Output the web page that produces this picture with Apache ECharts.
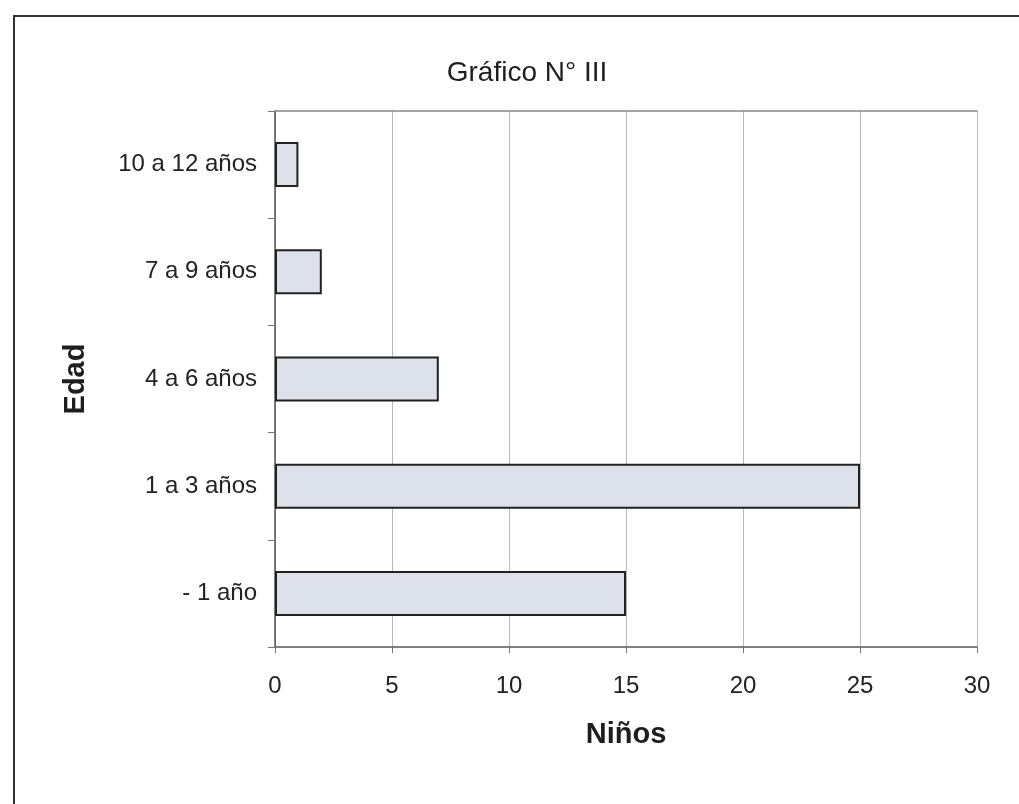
<!DOCTYPE html>
<html>
<head>
<meta charset="utf-8">
<script src="https://cdn.jsdelivr.net/npm/echarts@6/dist/echarts.min.js"></script>
<style>
  html, body { margin: 0; padding: 0; background: #fff; }
  #chart { width: 1019px; height: 804px; }
</style>
</head>
<body>
<div id="chart"></div>
<script>
// categorías de abajo hacia arriba
const edades = ['- 1 año', '1 a 3 años', '4 a 6 años', '7 a 9 años', '10 a 12 años'];
const ninos = [15, 25, 7, 2, 1];

const chart = echarts.init(document.getElementById('chart'));

const option = {
  backgroundColor: '#ffffff',
  textStyle: { fontFamily: 'Liberation Sans, Arial, sans-serif' },
  title: {
    text: 'Gráfico N° III',
    left: 522,
    top: 54,
    textAlign: 'center',
    textStyle: { fontSize: 28, fontWeight: 'normal', color: '#1e1e1e' }
  },
  graphic: [
    {
      type: 'rect',
      shape: { x: 14, y: 16, width: 1100, height: 900 },
      style: { fill: 'none', stroke: '#333', lineWidth: 2 },
      silent: true
    }
  ],
  grid: { left: 275, right: 42, top: 111, bottom: 157 },
  xAxis: [
    {
      type: 'value',
      min: 0,
      max: 30,
      interval: 5,
      name: 'Niños',
      nameLocation: 'middle',
      nameGap: 73,
      nameTextStyle: { fontSize: 29, fontWeight: 'bold', color: '#1e1e1e' },
      axisLine: { show: true, lineStyle: { color: '#555', width: 1.5 } },
      axisTick: { show: true, length: 6, lineStyle: { color: '#777' } },
      axisLabel: { fontSize: 24, color: '#222', margin: 27 },
      splitLine: { show: true, lineStyle: { color: '#b8b8b8', width: 1 } }
    },
    {
      // línea superior del área de trazado
      type: 'value',
      position: 'top',
      min: 0,
      max: 30,
      axisLine: { show: true, onZero: false, lineStyle: { color: '#888', width: 1.5 } },
      axisTick: { show: false },
      axisLabel: { show: false },
      splitLine: { show: false }
    }
  ],
  yAxis: {
    type: 'category',
    data: edades,
    name: 'Edad',
    nameLocation: 'middle',
    nameGap: 185,
    nameTextStyle: { fontSize: 29, fontWeight: 'bold', color: '#1e1e1e' },
    axisLine: { show: true, lineStyle: { color: '#555', width: 1.5 } },
    axisTick: { show: true, length: 7, lineStyle: { color: '#777' } },
    axisLabel: { fontSize: 24, color: '#222', margin: 18 },
    splitLine: { show: false }
  },
  series: [
    {
      type: 'bar',
      data: ninos,
      barWidth: '42%',
      itemStyle: {
        color: '#dde1ea',
        borderColor: '#222',
        borderWidth: 2
      },
      silent: true
    }
  ]
};

chart.setOption(option);
</script>
</body>
</html>
